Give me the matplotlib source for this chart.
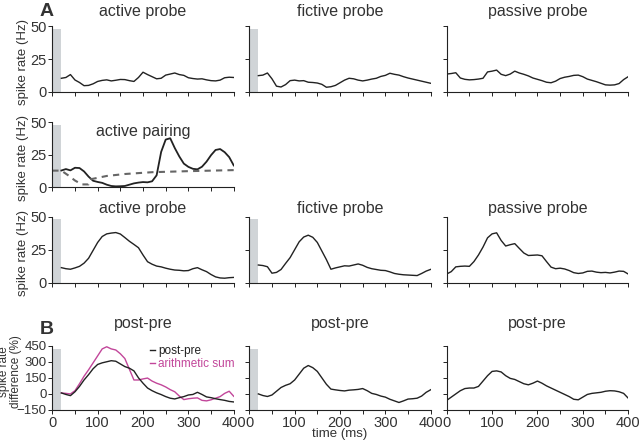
"""Spike rate panels: probes before/after pairing and post-pre differences."""

import matplotlib
matplotlib.use("Agg")
import matplotlib.pyplot as plt

# time axis (ms)
T_LATE = list(range(20, 401, 10))    # traces that start after the stimulus bar
T_FULL = list(range(0, 401, 10))     # traces that start at 0

# row 1: probes before pairing (Hz)
pre_active = [10.4, 11.0, 13.2, 9.1, 7.2, 4.8, 5.0, 6.2, 8.0, 8.8, 9.2, 8.4, 8.9, 9.5,
              9.4, 8.6, 8.0, 11.0, 15.0, 13.2, 11.6, 10.0, 10.4, 12.8, 13.6, 14.4, 13.2,
              12.6, 10.8, 10.2, 9.8, 10.0, 9.2, 8.6, 8.4, 9.0, 10.8, 11.2, 11.0]
pre_fictive = [12.4, 12.8, 14.4, 10.0, 4.4, 3.8, 5.6, 8.6, 9.0, 8.4, 8.6, 7.4, 7.2, 6.8,
               5.8, 3.6, 4.0, 5.0, 7.0, 9.0, 10.4, 10.0, 9.0, 8.4, 9.0, 9.8, 10.4, 11.8,
               12.6, 14.2, 13.4, 12.8, 11.6, 10.6, 9.8, 9.0, 8.2, 7.4, 6.6]
pre_passive = [13.6, 14.0, 14.6, 10.6, 9.6, 9.2, 9.4, 9.8, 10.4, 15.2, 15.8, 16.6, 13.4,
               12.4, 13.6, 15.8, 14.4, 13.4, 12.2, 10.6, 9.6, 8.6, 7.4, 7.0, 8.2, 10.2,
               11.2, 11.8, 12.6, 12.8, 11.6, 9.8, 8.8, 7.8, 6.6, 5.4, 5.2, 5.4, 6.4, 9.4,
               11.6]

# row 2: active pairing (Hz)
pairing = [12.7, 13.8, 12.8, 14.8, 14.6, 12.0, 8.0, 4.8, 3.9, 3.2, 1.8, 0.8, 0.5, 0.6,
           0.8, 1.8, 2.8, 3.4, 3.8, 3.6, 4.4, 9.0, 27.0, 36.5, 37.5, 30.0, 23.5, 18.0,
           15.5, 14.0, 13.6, 15.6, 19.5, 24.5, 28.5, 29.2, 26.8, 23.0, 16.6]
pairing_ref_t = [0, 20, 35, 50, 60, 65, 80, 85, 120, 160, 220, 300, 400]
pairing_ref = [12.6, 12.6, 9.0, 5.0, 3.0, 2.0, 2.0, 6.0, 8.5, 10.0, 11.4, 12.2, 13.0]

# row 3: probes after pairing (Hz)
post_active = [11.4, 10.6, 10.2, 11.2, 12.4, 14.8, 18.5, 24.5, 30.5, 35.0, 37.0, 37.6,
               38.0, 36.9, 34.2, 31.4, 29.0, 26.5, 21.0, 15.9, 14.0, 12.6, 12.0, 11.0,
               10.2, 9.6, 9.4, 9.0, 9.2, 10.6, 11.4, 9.8, 8.4, 6.2, 4.4, 3.6, 3.4, 3.8, 4.0]
post_fictive = [13.4, 13.0, 12.1, 7.2, 7.8, 10.0, 14.6, 19.0, 25.0, 31.0, 34.6, 36.0,
                34.4, 30.5, 24.0, 17.5, 10.2, 11.2, 12.0, 12.8, 12.6, 13.4, 14.2, 13.2,
                11.6, 10.6, 10.0, 9.4, 9.2, 8.2, 7.0, 6.4, 6.0, 5.8, 5.6, 5.4, 7.0, 8.8,
                10.1]
post_passive = [6.6, 8.4, 12.0, 12.4, 12.6, 12.4, 16.0, 21.0, 27.0, 34.0, 37.0, 37.8,
                32.0, 27.8, 28.8, 29.6, 26.0, 22.5, 20.6, 20.8, 21.0, 20.4, 16.0, 11.8,
                10.6, 11.0, 10.4, 9.2, 7.6, 7.0, 7.4, 8.6, 8.8, 8.0, 7.6, 7.8, 7.4, 8.0,
                8.8, 8.6, 6.6]

# row 4: post-pre differences (%)
diff_active = [9, -5, -16, 20, 70, 130, 180, 235, 275, 290, 300, 310, 305, 280, 255, 240,
               215, 150, 100, 55, 30, 10, -6, -25, -40, -47, -35, -25, -10, -5, 15, -5,
               -28, -35, -45, -53, -60, -70, -75]
arith_sum = [9, 5, 0, 30, 95, 165, 225, 290, 355, 420, 440, 420, 410, 375, 330, 230, 130,
             130, 140, 148, 120, 100, 85, 65, 40, 20, -20, -53, -45, -40, -37, -60, -65,
             -55, -40, -25, 5, 25, -22]
diff_fictive = [0, -15, -24, -10, 25, 60, 80, 95, 130, 185, 240, 265, 245, 210, 150, 90,
                45, 38, 32, 28, 35, 38, 42, 50, 30, 5, -5, -20, -30, -50, -65, -80, -65,
                -48, -45, -40, -20, 15, 39]
diff_passive = [-60, -30, 0, 30, 50, 55, 55, 70, 120, 170, 210, 215, 205, 170, 145, 135,
                115, 95, 85, 100, 120, 100, 75, 55, 35, 15, -5, -25, -50, -55, -30, -5, 5,
                10, 15, 25, 30, 28, 20, 5, -39]

TEXT = "#333333"
LINE = "#222222"
BAR = "#d0d4d7"
MAGENTA = "#c2469a"

plt.rcParams["font.family"] = "Liberation Sans"
plt.rcParams["font.size"] = 10

fig = plt.figure(figsize=(6.4, 4.44), dpi=100)

col_left = [0.0817, 0.3895, 0.698]
col_w = 0.2835
row_rect = [(0.7928, 0.1486), (0.5788, 0.1464), (0.3633, 0.1486), (0.0766, 0.1448)]


def make_axes(row, col, ylim, yticks, show_ylabels, show_xlabels, bar_top):
    bottom, height = row_rect[row]
    ax = fig.add_axes([col_left[col], bottom, col_w, height])
    ax.set_xlim(0, 400)
    ax.set_ylim(*ylim)
    for side in ("top", "right"):
        ax.spines[side].set_visible(False)
    for side in ("left", "bottom"):
        ax.spines[side].set_color(LINE)
        ax.spines[side].set_linewidth(0.8)
    ax.set_xticks(range(0, 401, 50))
    ax.set_yticks(yticks)
    ax.tick_params(colors=LINE, labelcolor=TEXT, length=3, width=0.7,
                   labelsize=10.5, pad=1)
    if show_xlabels:
        ax.set_xticklabels([str(t) if t % 100 == 0 else "" for t in range(0, 401, 50)])
    else:
        ax.set_xticklabels([])
    if not show_ylabels:
        ax.set_yticklabels([])
    if bar_top is not None:
        ax.bar(0, bar_top - ylim[0], width=20, bottom=ylim[0], align="edge",
               color=BAR, zorder=0)
    return ax


def rate_label(ax):
    # label anchor is the right edge of the rotated text
    ax.set_ylabel("spike rate (Hz)", color=TEXT, fontsize=9.5)
    ax.yaxis.set_label_coords(-0.13, 0.45)


rate_ticks = [0, 25, 50]
diff_ticks = [-150, 0, 150, 300, 450]
TITLE_SIZE = 11.5

# row 1
row1 = [("active probe", T_LATE, pre_active, 48),
        ("fictive probe", T_LATE, pre_fictive, 48),
        ("passive probe", T_FULL, pre_passive, None)]
for col, (title, t, y, bar) in enumerate(row1):
    ax = make_axes(0, col, (0, 50), rate_ticks, col == 0, False, bar)
    ax.plot(t, y, color=LINE, lw=1.0)
    ax.set_title(title, fontsize=TITLE_SIZE, color=TEXT, pad=7)
    if col == 0:
        rate_label(ax)

# row 2
ax = make_axes(1, 0, (0, 50), rate_ticks, True, False, 48)
ax.plot(T_LATE, pairing, color=LINE, lw=1.3)
ax.plot(pairing_ref_t, pairing_ref, color="#666666", lw=1.5, ls=(0, (3, 2.5)))
ax.text(0.5, 0.97, "active pairing", transform=ax.transAxes, ha="center", va="top",
        fontsize=TITLE_SIZE, color=TEXT)
rate_label(ax)

# row 3
row3 = [("active probe", T_LATE, post_active, 48),
        ("fictive probe", T_LATE, post_fictive, 48),
        ("passive probe", T_FULL, post_passive, None)]
for col, (title, t, y, bar) in enumerate(row3):
    ax = make_axes(2, col, (0, 50), rate_ticks, col == 0, False, bar)
    ax.plot(t, y, color=LINE, lw=1.0)
    ax.set_title(title, fontsize=TITLE_SIZE, color=TEXT, pad=3)
    if col == 0:
        rate_label(ax)

# row 4
row4 = [(T_LATE, diff_active, 420), (T_LATE, diff_fictive, 420), (T_FULL, diff_passive, None)]
for col, (t, y, bar) in enumerate(row4):
    ax = make_axes(3, col, (-150, 450), diff_ticks, col == 0, True, bar)
    if col == 0:
        ax.tick_params(axis="y", labelsize=9.5)
        ax.plot(t, arith_sum, color=MAGENTA, lw=1.0, label="arithmetic sum")
        ax.plot(t, y, color=LINE, lw=1.0, label="post-pre")
        handles, labels = ax.get_legend_handles_labels()
        ax.legend(handles[::-1], labels[::-1], loc="upper right", frameon=False,
                  fontsize=8.5, handlelength=0.5, handletextpad=0.2,
                  labelspacing=0.05, borderaxespad=0.0, labelcolor="linecolor",
                  bbox_to_anchor=(1.03, 1.08))
        ax.set_ylabel("spike rate\ndifference (%)", color=TEXT, fontsize=8.5,
                      linespacing=0.95)
        ax.yaxis.set_label_coords(-0.168, 0.6)
    else:
        ax.plot(t, y, color=LINE, lw=1.0)
    if col == 1:
        ax.set_xlabel("time (ms)", color=TEXT, fontsize=9.5, labelpad=-1)
    ax.set_title("post-pre", fontsize=TITLE_SIZE, color=TEXT, pad=13)

fig.text(47 / 640, 1 - 12 / 444, "A", fontsize=14, fontweight="bold", color=TEXT,
         ha="center", va="center")
fig.text(47 / 640, 1 - 330 / 444, "B", fontsize=14, fontweight="bold", color=TEXT,
         ha="center", va="center")

fig.savefig("out.png", dpi=100)
